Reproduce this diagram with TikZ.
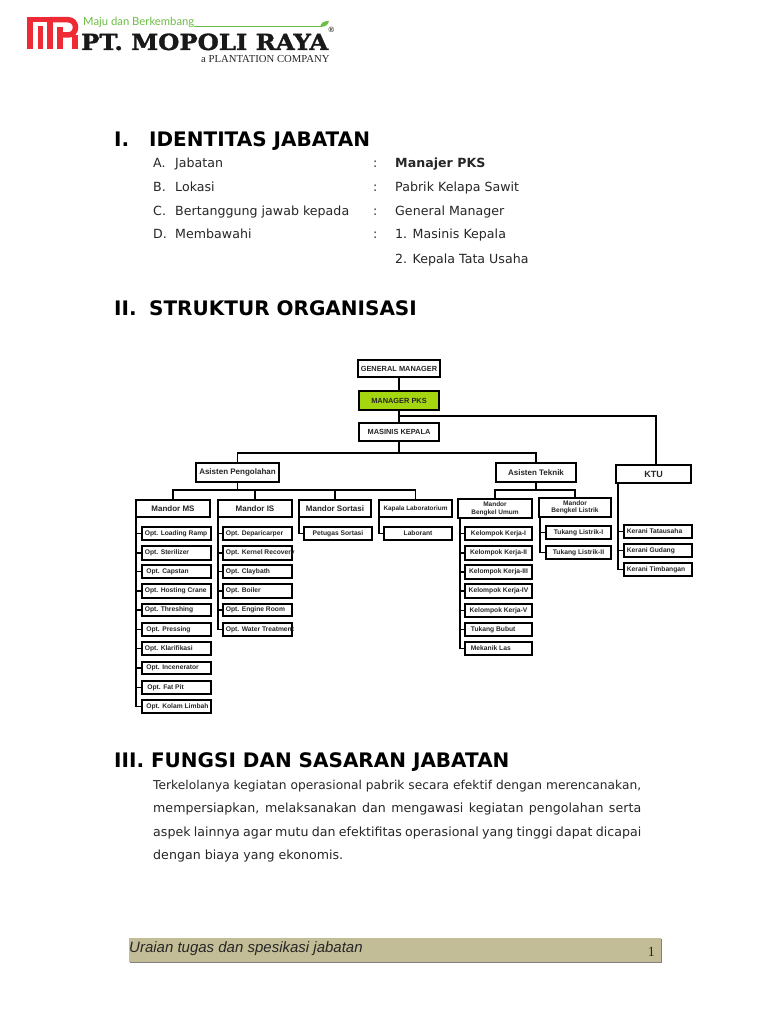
\documentclass[tikz,border=0pt]{standalone}
\usepackage{fontspec}
\usepackage{graphicx}
\setmainfont{DejaVu Sans}
\newfontfamily\bodyf[LetterSpace=0.2]{DejaVu Sans}
\newfontfamily\headf{DejaVu Sans}
\newfontfamily\arialf{Liberation Sans}
\newfontfamily\timesf{Liberation Serif}
\newfontfamily\logof[BoldFeatures={FakeBold=1.5}]{DejaVu Serif}
\newfontfamily\greenf{Lato}
\definecolor{txt}{HTML}{262626}
\definecolor{limeb}{HTML}{A4D70F}
\definecolor{foot}{HTML}{C3BD97}
\definecolor{logored}{HTML}{EE2A35}
\definecolor{logogreen}{HTML}{6DBE45}
\newcommand{\bw}{10}
\newcommand{\lt}[1]{\makebox[\dimexpr\bw pt-6pt\relax][l]{#1}}
\newcommand{\bx}[7][]{%
  \pgfmathsetmacro{\bw}{#5-#3-1.8}%
  \pgfmathsetmacro{\bh}{#6-#4-1.8}%
  \node[orgbox,minimum width=\bw pt,minimum height=\bh pt,#1] (#2) at ({(#3+#5)/2},{(#4+#6)/2}) {#7};}
\tikzset{
  orgbox/.style={draw=black,line width=1.8pt,fill=white,inner xsep=3pt,inner ysep=0pt,
    font=\arialf\fontsize{6.7}{7.4}\selectfont\bfseries,text=black!85,align=center},
  headbox/.style={font=\arialf\fontsize{7.4}{8}\selectfont\bfseries},
  midbox/.style={font=\arialf\fontsize{8}{9}\selectfont\bfseries},
  conn/.style={draw=black,line width=1.7pt},
  head/.style={anchor=base west,inner sep=0pt,font=\headf\fontsize{20}{24}\selectfont\bfseries,text=black},
  body/.style={anchor=base west,inner sep=0pt,font=\bodyf\fontsize{12.6}{15}\selectfont,text=txt},
}
\begin{document}
\begin{tikzpicture}[x=1pt,y=-1pt]
\useasboundingbox[fill=white] (0,0) rectangle (768,1024);
% logo
\begin{scope}[logored,line width=5.5pt]
\draw (30,49.5) -- (30,19.7) -- (50,19.7) -- (50,49.5);
\draw (40.5,49.5) -- (40.5,26);
\draw (60,49.5) -- (60,27);
\draw (50,19.7) -- (68,19.7) .. controls (78,19.7) and (78,35) .. (68,35) -- (60,35);
\draw (75,49.5) -- (75,35.5);
\end{scope}
\node[anchor=base west,inner sep=0pt,text=logogreen,font=\greenf\fontsize{11.3}{14}\selectfont] (lg1) at (83,26) {Maju dan Berkembang};
\draw[logogreen,line width=.7pt] (194,26.5) -- (322,26.5);
\fill[logogreen] (320,27) .. controls (321,22) and (325,21) .. (329,21) .. controls (328,25) and (325,27) .. (320,27) -- cycle;
\node[anchor=base west,inner sep=0pt,text=black!90] (lg2) at (81,50) {\resizebox{247pt}{16.5pt}{\logof\bfseries PT. MOPOLI RAYA}};
\node[anchor=base west,inner sep=0pt,font=\arialf\fontsize{7.5}{8}\selectfont] (lg3) at (328.5,33) {®};
\node[anchor=base west,inner sep=0pt,text=black!85,font=\timesf\fontsize{10.7}{12}\selectfont] (lg4) at (201,63) {a PLANTATION COMPANY};
% headings
\node[head] (h1a) at (114,147) {I.};
\node[head] (h1b) at (149,147) {IDENTITAS JABATAN};
\node[head] (h2a) at (114,315) {II.};
\node[head] (h2b) at (149,315) {STRUKTUR ORGANISASI};
\node[head] (h3) at (114,767) {III. FUNGSI DAN SASARAN JABATAN};
% identity
\node[body] (a1) at (153,168) {A.};
\node[body] (a2) at (175,168) {Jabatan};
\node[body] (a3) at (373,168) {:};
\node[body,font=\bodyf\fontsize{12.6}{15}\selectfont\bfseries] (a4) at (395,168) {Manajer PKS};
\node[body] (b1) at (153,192) {B.};
\node[body] (b2) at (175,192) {Lokasi};
\node[body] (b3) at (373,192) {:};
\node[body] (b4) at (395,192) {Pabrik Kelapa Sawit};
\node[body] (c1) at (153,215) {C.};
\node[body] (c2) at (175,215) {Bertanggung jawab kepada};
\node[body] (c3) at (373,215) {:};
\node[body] (c4) at (395,215) {General Manager};
\node[body] (d1) at (153,239) {D.};
\node[body] (d2) at (175,239) {Membawahi};
\node[body] (d3) at (373,239) {:};
\node[body] (d4) at (395,239) {1. Masinis Kepala};
\node[body] (d5) at (395,263) {2. Kepala Tata Usaha};
% paragraph
\node[body] (p1) at (153,789) {\resizebox{488pt}{!}{Terkelolanya kegiatan operasional pabrik secara efektif dengan merencanakan,}};
\node[body] (p2) at (153,812) {\makebox[488pt][s]{mempersiapkan, melaksanakan dan mengawasi kegiatan pengolahan serta}};
\node[body] (p3) at (153,836) {\makebox[488pt][s]{aspek lainnya agar mutu dan efektifitas operasional yang tinggi dapat dicapai}};
\node[body] (p4) at (153,859) {dengan biaya yang ekonomis.};
% footer
\fill[black!50] (130,939) rectangle (662,963);
\fill[foot] (129,938) rectangle (660.5,962);
\node[anchor=base west,inner sep=0pt,text=txt,font=\arialf\fontsize{15}{16}\selectfont\itshape] (f1) at (129,952) {Uraian tugas dan spesikasi jabatan};
\node[anchor=base east,inner sep=0pt,text=txt,font=\timesf\fontsize{14}{16}\selectfont] (f2) at (655,956) {1};
% org boxes
\bx[headbox]{gm}{358}{359}{440}{378}{GENERAL MANAGER}
\bx[headbox,fill=limeb]{mgr}{358}{390}{440}{411}{MANAGER PKS}
\bx[headbox]{mk}{358}{422}{440}{442}{MASINIS KEPALA}
\bx[midbox]{ap}{197}{462}{278}{483}{Asisten Pengolahan}
\bx[midbox]{atk}{495}{462}{577}{483}{Asisten Teknik}
\bx[font=\arialf\fontsize{9}{10}\selectfont\bfseries]{ktu}{615}{464}{692}{484}{KTU}
\bx[midbox]{ms}{135}{499}{211}{518}{Mandor MS}
\bx[midbox]{is}{217}{499}{293}{518}{Mandor IS}
\bx[midbox]{so}{298}{499}{372}{518}{Mandor Sortasi}
\bx[font=\arialf\fontsize{6.4}{8}\selectfont\bfseries]{lab}{378}{499}{453}{518}{Kapala Laboratorium}
\bx[font=\arialf\fontsize{6.5}{8.2}\selectfont\bfseries]{bu}{457}{498}{533}{519}{Mandor\\Bengkel Umum}
\bx[font=\arialf\fontsize{6.6}{7.6}\selectfont\bfseries]{bl}{538}{497}{612}{518}{Mandor\\Bengkel Listrik}
% col 1
\bx{o1}{141}{526}{212}{541}{\lt{Opt. Loading Ramp}}
\bx{o2}{141}{545}{212}{561}{\lt{Opt. Sterilizer}}
\bx{o3}{141}{564}{212}{579}{\lt{\hspace{1.5pt}Opt. Capstan}}
\bx{o4}{141}{583}{212}{599}{\lt{Opt. Hosting Crane}}
\bx{o5}{141}{603}{212}{617}{\lt{Opt. Threshing}}
\bx{o6}{141}{622}{212}{637}{\lt{\hspace{1.5pt}Opt. Pressing}}
\bx{o7}{141}{641}{212}{656}{\lt{Opt. Klarifikasi}}
\bx{o8}{141}{661}{212}{675}{\lt{\hspace{1.5pt}Opt. Incenerator}}
\bx{o9}{141}{680}{212}{695}{\lt{\hspace{2.5pt}Opt. Fat Pit}}
\bx{o10}{141}{699}{212}{714}{\lt{\hspace{1.5pt}Opt. Kolam Limbah}}
% col 2
\bx{i1}{222}{526}{293}{541}{\lt{Opt. Deparicarper}}
\bx{i2}{222}{545}{293}{561}{\lt{Opt. Kernel Recovery}}
\bx{i3}{222}{564}{293}{579}{\lt{Opt. Claybath}}
\bx{i4}{222}{583}{293}{599}{\lt{Opt. Boiler}}
\bx{i5}{222}{603}{293}{617}{\lt{Opt. Engine Room}}
\bx{i6}{222}{622}{293}{637}{\lt{Opt. Water Treatment}}
% singles
\bx{ps}{303}{526}{373}{541}{Petugas Sortasi}
\bx{lr}{383}{526}{453}{541}{Laborant}
% umum
\bx{u1}{464}{526}{533}{541}{Kelompok Kerja-I}
\bx{u2}{464}{545}{533}{561}{Kelompok Kerja-II}
\bx{u3}{464}{564}{533}{580}{Kelompok Kerja-III}
\bx{u4}{464}{583}{533}{599}{Kelompok Kerja-IV}
\bx{u5}{464}{603}{533}{618}{Kelompok Kerja-V}
\bx{u6}{464}{622}{533}{637}{\lt{\hspace{3pt}Tukang Bubut}}
\bx{u7}{464}{641}{533}{656}{\lt{\hspace{3pt}Mekanik Las}}
% listrik
\bx{l1}{545}{525}{612}{540}{Tukang Listrik-I}
\bx{l2}{545}{545}{612}{560}{Tukang Listrik-II}
% ktu
\bx{k1}{623}{524}{693}{539}{\lt{Kerani Tatausaha}}
\bx{k2}{623}{543}{693}{558}{\lt{Kerani Gudang}}
\bx{k3}{623}{562}{693}{577}{\lt{Kerani Timbangan}}
% connectors
\coordinate (bk) at (656,416);
\coordinate (bm) at (399,453);
\coordinate (bp) at (238,490);
\coordinate (bt) at (536,490);
\coordinate (tms) at (136,518);
\coordinate (tis) at (218,518);
\coordinate (tso) at (299,518);
\coordinate (tla) at (379,518);
\coordinate (tbu) at (460,519);
\coordinate (tbl) at (540,518);
\coordinate (tkt) at (618,484);
\draw[conn] (gm) -- (mgr);
\draw[conn] (mgr) -- (mk);
\draw[conn,line width=2pt] (mgr.south) |- (bk) -- (ktu.north -| bk);
\draw[conn] (mk.south) -- (bm);
\draw[conn] (ap.north) |- (bm);
\draw[conn] (atk.north) |- (bm);
\draw[conn] (ap.south) -- (ap.south |- bp);
\draw[conn] (atk.south) -- (atk.south |- bt);
\foreach \n in {ms,is,so,lab} \draw[conn] (\n.north) |- (bp);
\foreach \n in {bu,bl} \draw[conn] (\n.north) |- (bt);
\foreach \n in {o1,o2,o3,o4,o5,o6,o7,o8,o9,o10} \draw[conn] (tms) |- (\n.west);
\foreach \n in {i1,i2,i3,i4,i5,i6} \draw[conn] (tis) |- (\n.west);
\draw[conn] (tso) |- (ps.west);
\draw[conn] (tla) |- (lr.west);
\foreach \n in {u1,u2,u3,u4,u5,u6,u7} \draw[conn] (tbu) |- (\n.west);
\foreach \n in {l1,l2} \draw[conn] (tbl) |- (\n.west);
\foreach \n in {k1,k2,k3} \draw[conn] (tkt) |- (\n.west);
\end{tikzpicture}
\end{document}
